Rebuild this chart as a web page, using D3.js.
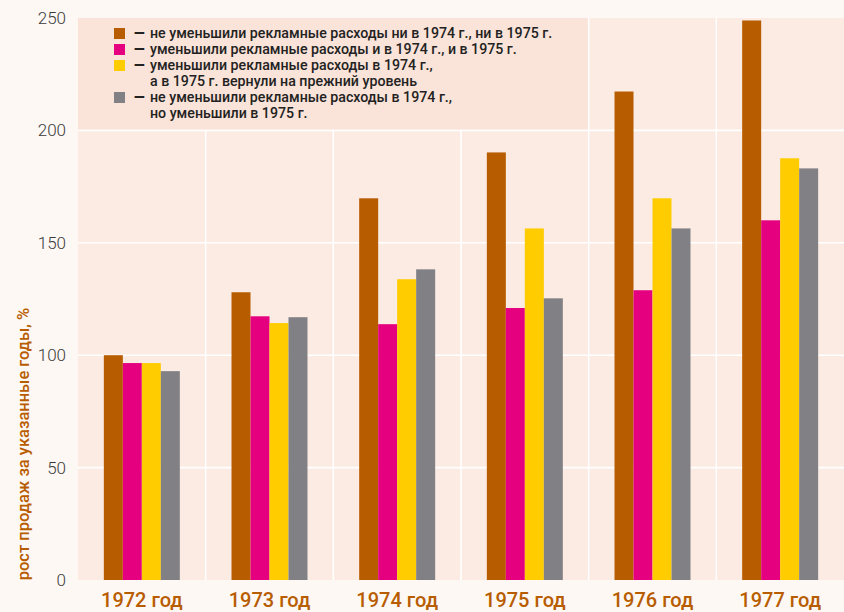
<!DOCTYPE html>
<html>
<head>
<meta charset="utf-8">
<script src="https://cdn.jsdelivr.net/npm/d3@7/dist/d3.min.js"></script>
<style>
  html, body { margin: 0; padding: 0; background: #fdf8f4; }
  svg { display: block; }
</style>
</head>
<body>
<svg id="chart" width="844" height="612"></svg>
<script>
// Sales growth by year, four groups of companies by advertising spending
const years = ["1972 год", "1973 год", "1974 год", "1975 год", "1976 год", "1977 год"];
const seriesKeys = ["keptBoth", "cutBoth", "cutThenRestored", "cutLater"];
const keptBoth        = [100, 128, 169.8, 190.2, 217.3, 248.9];
const cutBoth         = [96.5, 117.3, 113.8, 121.0, 128.9, 160.0];
const cutThenRestored = [96.5, 114.3, 133.8, 156.4, 169.8, 187.6];
const cutLater        = [92.9, 116.9, 138.2, 125.3, 156.4, 183.1];
const yTicks = [0, 50, 100, 150, 200, 250];
const legendLines = [
  ["не уменьшили рекламные расходы ни в 1974 г., ни в 1975 г."],
  ["уменьшили рекламные расходы и в 1974 г., и в 1975 г."],
  ["уменьшили рекламные расходы в 1974 г.,", "а в 1975 г. вернули на прежний уровень"],
  ["не уменьшили рекламные расходы в 1974 г.,", "но уменьшили в 1975 г."]
];
const yTitle = "рост продаж за указанные годы, %";

const colors = ["#b85c00", "#e4007e", "#ffcc00", "#818085"];
const seriesValues = [keptBoth, cutBoth, cutThenRestored, cutLater];

const svg = d3.select("#chart");
const plotLeft = 78, plotRight = 844, plotTop = 18, plotBottom = 580;

const x0 = d3.scaleBand().domain(years).range([plotLeft, plotRight]).padding(0);
const x1 = d3.scaleBand().domain(seriesKeys).range([0, x0.bandwidth()])
  .paddingInner(0).paddingOuter(1.36);
const y = d3.scaleLinear().domain([0, 250]).range([plotBottom, plotTop]);

// plot background
svg.append("rect").attr("x", plotLeft).attr("y", plotTop)
  .attr("width", plotRight - plotLeft).attr("height", plotBottom - plotTop)
  .attr("fill", "#fbebe3");

// horizontal grid
svg.append("g").selectAll("line").data(yTicks.filter(t => t > 0 && t < 250)).join("line")
  .attr("x1", plotLeft).attr("x2", plotRight)
  .attr("y1", d => y(d)).attr("y2", d => y(d))
  .attr("stroke", "#ffffff").attr("stroke-width", 1.6);

// vertical separators between years
svg.append("g").selectAll("line").data(years.slice(1)).join("line")
  .attr("x1", d => x0(d)).attr("x2", d => x0(d))
  .attr("y1", plotTop).attr("y2", plotBottom)
  .attr("stroke", "#ffffff").attr("stroke-width", 1.6);

// legend panel
const legendRight = x0(years[4]) - 1;
svg.append("rect").attr("x", plotLeft).attr("y", plotTop)
  .attr("width", legendRight - plotLeft).attr("height", y(200) - 1 - plotTop)
  .attr("fill", "#fae3d8");

// bars
const groups = svg.append("g").selectAll("g").data(years).join("g")
  .attr("transform", d => `translate(${x0(d)},0)`);
groups.selectAll("rect")
  .data((d, i) => seriesKeys.map((k, s) => ({ key: k, s, value: seriesValues[s][i] })))
  .join("rect")
  .attr("x", d => x1(d.key))
  .attr("width", x1.bandwidth())
  .attr("y", d => y(d.value))
  .attr("height", d => y(0) - y(d.value))
  .attr("fill", d => colors[d.s]);

// y axis labels
const yAxis = d3.axisLeft(y).tickValues(yTicks).tickSize(0).tickPadding(0);
const yg = svg.append("g").attr("transform", "translate(66,0)").call(yAxis);
yg.select(".domain").remove();
yg.selectAll("text")
  .attr("font-family", "Roboto, sans-serif")
  .attr("font-weight", 300)
  .attr("font-size", 17)
  .attr("fill", "#3a3a3a");

// x axis labels
const xAxis = d3.axisBottom(x0).tickSize(0).tickPadding(0);
const xg = svg.append("g").attr("transform", `translate(0,${plotBottom})`).call(xAxis);
xg.select(".domain").remove();
xg.selectAll("text")
  .attr("dy", 0).attr("y", 27)
  .attr("font-family", "Roboto, sans-serif")
  .attr("font-weight", 500)
  .attr("font-size", 20)
  .attr("fill", "#b85c00");

// y title
svg.append("text")
  .attr("transform", "translate(29,444) rotate(-90)")
  .attr("text-anchor", "middle")
  .attr("font-family", "Roboto, sans-serif")
  .attr("font-weight", 500)
  .attr("font-size", 16.5)
  .attr("fill", "#b85c00")
  .text(yTitle);

// legend entries
let row = 0;
const lg = svg.append("g");
legendLines.forEach((lines, i) => {
  const baseY = 38 + row * 16;
  lg.append("rect").attr("x", 114).attr("y", baseY - 10)
    .attr("width", 11).attr("height", 11).attr("fill", colors[i]);
  lg.append("text").attr("x", 134).attr("y", baseY)
    .attr("font-family", "Roboto, sans-serif").attr("font-weight", 900)
    .attr("font-size", 14).attr("fill", "#222")
    .text("—");
  lines.forEach((ln, j) => {
    lg.append("text").attr("x", 150).attr("y", baseY + j * 16)
      .attr("font-family", "Roboto, sans-serif").attr("font-weight", 500)
      .attr("font-size", 14.2).attr("fill", "#222")
      .text(ln);
  });
  row += lines.length;
});
</script>
</body>
</html>
